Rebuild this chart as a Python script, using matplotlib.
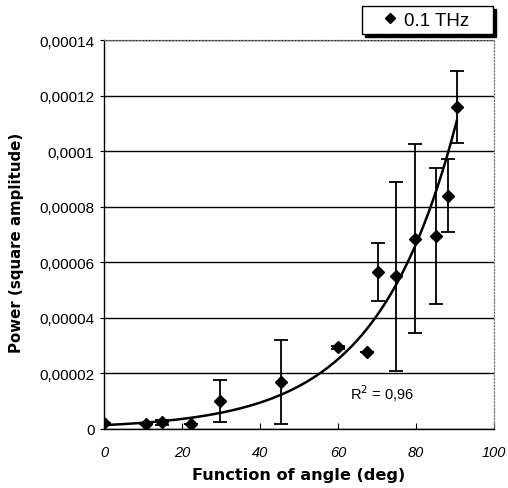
#!/usr/bin/env python3
import numpy as np
import matplotlib
matplotlib.use("Agg")
import matplotlib.pyplot as plt
from matplotlib.lines import Line2D
from matplotlib.ticker import FuncFormatter

ANGLE = [0, 10.7, 14.9, 22.2, 29.7, 45.3, 59.9, 67.4, 70.2, 74.8, 79.7, 85.1, 88.2, 90.5]
POWER = [2.1e-6, 1.8e-6, 2.3e-6, 1.6e-6, 1.0e-5, 1.68e-5, 2.93e-5, 2.75e-5,
         5.65e-5, 5.5e-5, 6.85e-5, 6.95e-5, 8.4e-5, 1.16e-4]
ERR = [0, 0, 0.9e-6, 0, 7.5e-6, 1.52e-5, 0.6e-6, 0,
       1.05e-5, 3.4e-5, 3.4e-5, 2.45e-5, 1.3e-5, 1.3e-5]
LABEL = "0.1 THz"
R2_TEXT = "R$^2$ = 0,96"

plt.rcParams["font.family"] = ["Liberation Sans", "DejaVu Sans"]


def comma_fmt(v, pos):
    if abs(v) < 1e-12:
        return "0"
    s = f"{v:.5f}".rstrip("0")
    return s.replace(".", ",")


def main():
    fig = plt.figure(figsize=(5.08, 4.89), dpi=100)
    ax = fig.add_axes([0.205, 0.121, 0.767, 0.795])

    x = np.array(ANGLE)
    y = np.array(POWER)

    # exponential trendline (least squares on log power), like Excel's
    b, a = np.polyfit(x, np.log(y), 1)
    xs = np.linspace(0, x.max(), 300)
    ax.plot(xs, np.exp(a + b * xs), color="black", lw=1.8, zorder=3)

    ax.errorbar(x, y, yerr=ERR, fmt="D", color="black", ms=6.5,
                ecolor="black", elinewidth=1.3, capsize=5, capthick=1.3,
                zorder=4)

    ax.set_xlim(0, 100)
    ax.set_ylim(0, 0.00014)
    ax.set_xticks(range(0, 101, 20))
    ax.set_yticks(np.arange(0, 0.000141, 0.00002))
    ax.yaxis.set_major_formatter(FuncFormatter(comma_fmt))

    ax.grid(axis="y", color="black", lw=1.0)
    ax.set_axisbelow(True)

    for s in ["top", "right"]:
        ax.spines[s].set_color("#777777")
        ax.spines[s].set_linestyle(":")
        ax.spines[s].set_linewidth(0.9)
    for s in ["left", "bottom"]:
        ax.spines[s].set_color("black")
        ax.spines[s].set_linewidth(1.0)

    ax.tick_params(axis="x", direction="in", length=4, labelsize=10.5, pad=12)
    ax.tick_params(axis="y", direction="out", length=3, labelsize=11, pad=4)
    for t in ax.get_xticklabels():
        t.set_style("italic")

    ax.set_xlabel("Function of angle (deg)", fontsize=11.6, fontweight="bold",
                  family="DejaVu Sans", va="center")
    ax.xaxis.set_label_coords(0.5, -0.118)
    ax.set_ylabel("Power (square amplitude)", fontsize=10.8, fontweight="bold",
                  family="DejaVu Sans", va="center")
    ax.yaxis.set_label_coords(-0.226, 0.48)

    ax.text(63, 1.3e-5, R2_TEXT, fontsize=10.5, ha="left", va="center")

    # legend box stretched to the width of the original key
    handle = Line2D([], [], marker="D", color="black", ls="none", ms=5.5)
    leg = fig.legend([handle], [LABEL], loc="upper left", mode="expand",
                     bbox_to_anchor=(362 / 508, 1 - 37 / 489, 131 / 508, 30 / 489),
                     fancybox=False, shadow={"color": "black", "alpha": 1},
                     edgecolor="black", fontsize=13.5, handlelength=2.4,
                     handletextpad=-0.45, borderpad=0.3, borderaxespad=0)
    leg.get_frame().set_linewidth(1.0)

    fig.savefig("out.png", dpi=100)


if __name__ == "__main__":
    main()
